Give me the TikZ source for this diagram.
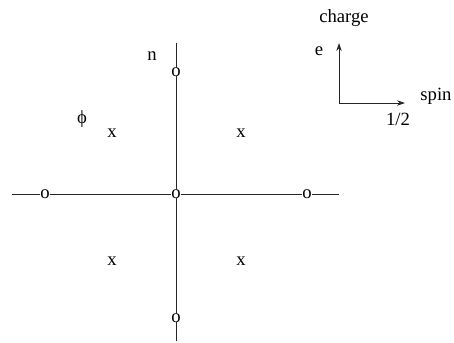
\documentclass[tikz,border=0pt]{standalone}
\usepackage{fontspec}
\setmainfont{Liberation Serif}
\usetikzlibrary{arrows.meta, positioning}

\tikzset{
    lbl/.style={font=\fontsize{14}{16}\selectfont, inner sep=0pt},
    ring/.style={font=\fontsize{14}{16}\selectfont, inner sep=0pt, outer sep=0pt},
    axisline/.style={line width=0.6pt, black!85},
}

\begin{document}
\begin{tikzpicture}[x=0.75pt, y=-0.75pt]
    \useasboundingbox (0,0) rectangle (454,343);

    % Punkte auf den Achsen
    \node[ring] (oT) at (176,72) {o};
    \node[ring] (oC) at (176,194) {o};
    \node[ring] (oB) at (176,318) {o};
    \node[ring] (oL) at (45,194) {o};
    \node[ring] (oR) at (307,194) {o};

    \coordinate (top) at (176,43);
    \coordinate (bot) at (176,341);
    \coordinate (lft) at (12,194);
    \coordinate (rgt) at (339,194);

    % Achsen
    \draw[axisline] (top) -- (oT) -- (oC) -- (oB) -- (bot);
    \draw[axisline] (lft) -- (oL) -- (oC) -- (oR) -- (rgt);

    % Kreuze
    \node[lbl] (xUL) at (112,133) {x};
    \node[lbl] (xUR) at (241,133) {x};
    \node[lbl] (xLL) at (112,261) {x};
    \node[lbl] (xLR) at (241,261) {x};

    % Beschriftungen
    \node[lbl] (phi) at (82,119) {ϕ};
    \node[lbl] (n) at (152,56) {n};

    % Legende
    \coordinate (corner) at (339,103);
    \coordinate (chg) at (339,43);
    \coordinate (spn) at (405,103);
    \draw[axisline, -{Stealth[length=6pt, width=4pt]}] (corner) -- (chg);
    \draw[axisline, -{Stealth[length=6pt, width=4pt]}] (corner) -- (spn);
    \node[lbl] (charge) at (344,18) {charge};
    \node[lbl] (e) at (319,51) {e};
    \node[lbl] (spin) at (436,96) {spin};
    \node[lbl] (half) at (398,119) {1/2};
\end{tikzpicture}
\end{document}
